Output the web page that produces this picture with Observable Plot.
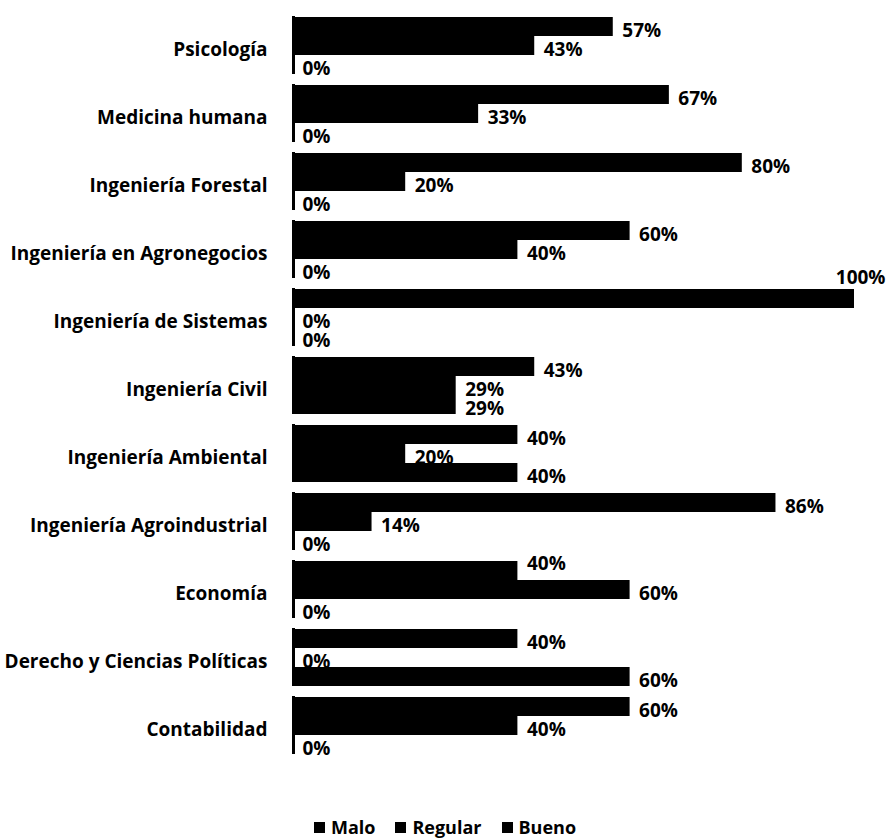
<!DOCTYPE html>
<html>
<head>
<meta charset="utf-8">
<script src="https://cdn.jsdelivr.net/npm/d3@7"></script>
<script src="https://cdn.jsdelivr.net/npm/@observablehq/plot@0.6"></script>
<style>
  html, body { margin: 0; padding: 0; background: #fff; }
  #chart { width: 888px; }
  .legend { display: flex; justify-content: center; align-items: center; height: 26px; margin-top: 2px;
    font-family: "Open Sans", sans-serif; font-weight: bold; font-size: 18px; color: #000; padding-left: 2px; }
  .legend .item { display: flex; align-items: center; margin: 0 10px; }
  .legend .sw { width: 11px; height: 11px; background: #000; margin-right: 6px; }
</style>
</head>
<body>
<div id="chart"></div>
<script>
const categories = [
  "Psicología",
  "Medicina humana",
  "Ingeniería Forestal",
  "Ingeniería en Agronegocios",
  "Ingeniería de Sistemas",
  "Ingeniería Civil",
  "Ingeniería Ambiental",
  "Ingeniería Agroindustrial",
  "Economía",
  "Derecho y Ciencias Políticas",
  "Contabilidad"
];
const series = ["Malo", "Regular", "Bueno"];
const malo    = [57, 67, 80, 60, 100, 43, 40, 86, 40, 40, 60];
const regular = [43, 33, 20, 40,   0, 29, 20, 14, 60,  0, 40];
const bueno   = [ 0,  0,  0,  0,   0, 29, 40,  0,  0, 60,  0];

const values = {Malo: malo, Regular: regular, Bueno: bueno};
const rows = [];
categories.forEach((c, i) => {
  series.forEach((s, j) => {
    const next = j < series.length - 1 ? values[series[j + 1]][i] : 0;
    rows.push({category: c, series: s, value: values[s][i], covered: s === "Malo" && next > values[s][i]});
  });
});

const font = "'Open Sans', sans-serif";
const fs = 19;
const normalLabels = rows.filter(d => d.value < 100 && !d.covered);
const raisedLabels = rows.filter(d => d.value < 100 && d.covered);
const fullLabels = rows.filter(d => d.value >= 100);

const chart = Plot.plot({
  width: 888,
  height: 812,
  marginLeft: 293,
  marginRight: 34,
  marginTop: 9,
  marginBottom: 51,
  style: {fontFamily: font, background: "#fff"},
  x: {domain: [0, 100], axis: null},
  y: {domain: series, axis: null, padding: 0},
  fy: {domain: categories, axis: null, paddingInner: 0.15, paddingOuter: 0.075},
  marks: [
    Plot.text(normalLabels, {
      x: "value", y: "series", fy: "category",
      text: d => d.value + "%",
      textAnchor: "start", dx: 9, dy: 4,
      fontSize: fs, fontWeight: "bold", fill: "#000"
    }),
    Plot.text(raisedLabels, {
      x: "value", y: "series", fy: "category",
      text: d => d.value + "%",
      textAnchor: "start", dx: 9, dy: -7,
      fontSize: fs, fontWeight: "bold", fill: "#000"
    }),
    Plot.text(fullLabels, {
      x: "value", y: "series", fy: "category",
      text: d => d.value + "%",
      textAnchor: "end", dx: 31, dy: -21,
      fontSize: fs, fontWeight: "bold", fill: "#000"
    }),
    Plot.barX(rows, {
      x: "value", y: "series", fy: "category",
      fill: "#000"
    }),
    Plot.ruleX([0], {stroke: "#000", strokeWidth: 3}),
    Plot.text(categories, {
      fy: d => d, text: d => d,
      frameAnchor: "left", textAnchor: "end", dx: -26, dy: 4,
      fontSize: fs, fontWeight: "bold", fill: "#000"
    })
  ]
});
document.getElementById("chart").appendChild(chart);

const legend = document.createElement("div");
legend.className = "legend";
series.forEach(s => {
  const item = document.createElement("div");
  item.className = "item";
  const sw = document.createElement("span");
  sw.className = "sw";
  const t = document.createElement("span");
  t.textContent = s;
  item.appendChild(sw);
  item.appendChild(t);
  legend.appendChild(item);
});
document.getElementById("chart").appendChild(legend);
</script>
</body>
</html>
